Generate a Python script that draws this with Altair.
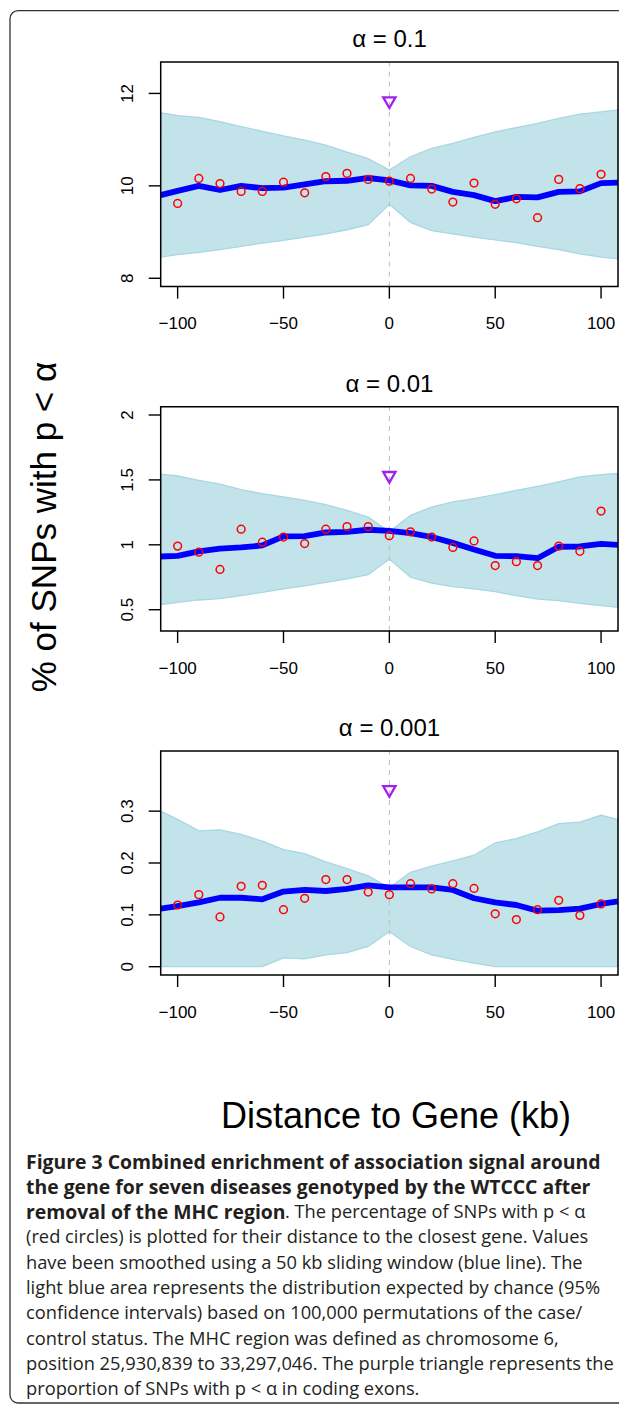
import altair as alt
import pandas as pd

# ---------------- data ----------------
KB = [-100, -90, -80, -70, -60, -50, -40, -30, -20, -10, 0,
      10, 20, 30, 40, 50, 60, 70, 80, 90, 100]
KB_EDGE = [-108] + KB + [108]

TITLES = ["α = 0.1", "α = 0.01", "α = 0.001"]

OBS = [
    [9.62, 10.16, 10.05, 9.88, 9.88, 10.08, 9.85, 10.20, 10.27, 10.14, 10.10,
     10.16, 9.93, 9.65, 10.06, 9.60, 9.72, 9.31, 10.14, 9.94, 10.25],
    [0.99, 0.943, 0.81, 1.12, 1.02, 1.06, 1.01, 1.12, 1.14, 1.14, 1.07,
     1.10, 1.06, 0.98, 1.03, 0.84, 0.87, 0.84, 0.99, 0.95, 1.26],
    [0.119, 0.139, 0.096, 0.155, 0.157, 0.110, 0.132, 0.168, 0.168, 0.144, 0.139,
     0.160, 0.150, 0.160, 0.151, 0.102, 0.091, 0.110, 0.128, 0.099, 0.121],
]
SMOOTH = [
    [9.80, 9.89, 10.00, 9.91, 10.00, 9.95, 9.96, 10.03, 10.10, 10.11, 10.17, 10.12,
     10.01, 10.00, 9.87, 9.80, 9.67, 9.76, 9.75, 9.87, 9.88, 10.06, 10.07],
    [0.91, 0.915, 0.95, 0.97, 0.98, 0.995, 1.065, 1.067, 1.095, 1.10, 1.116, 1.108,
     1.09, 1.06, 1.015, 0.964, 0.915, 0.912, 0.897, 0.985, 0.987, 1.008, 1.0],
    [0.112, 0.117, 0.124, 0.133, 0.133, 0.130, 0.145, 0.148, 0.146, 0.150, 0.157, 0.153,
     0.153, 0.153, 0.148, 0.132, 0.124, 0.119, 0.108, 0.109, 0.112, 0.121, 0.126],
]
HI = [
    [11.58, 11.52, 11.48, 11.39, 11.28, 11.18, 11.08, 10.99, 10.88, 10.73, 10.59, 10.34,
     10.63, 10.81, 10.92, 11.05, 11.17, 11.26, 11.35, 11.46, 11.55, 11.60, 11.64],
    [1.544, 1.53, 1.497, 1.467, 1.425, 1.394, 1.369, 1.343, 1.309, 1.265, 1.214, 1.10,
     1.227, 1.291, 1.33, 1.356, 1.387, 1.42, 1.45, 1.485, 1.523, 1.541, 1.549],
    [0.300, 0.284, 0.262, 0.264, 0.255, 0.242, 0.226, 0.218, 0.202, 0.189, 0.175, 0.152,
     0.182, 0.194, 0.204, 0.215, 0.239, 0.247, 0.260, 0.276, 0.279, 0.292, 0.284],
]
LO = [
    [8.46, 8.51, 8.56, 8.62, 8.69, 8.76, 8.82, 8.89, 8.96, 9.05, 9.16, 9.60,
     9.21, 9.03, 8.96, 8.89, 8.83, 8.77, 8.69, 8.62, 8.53, 8.46, 8.42],
    [0.539, 0.557, 0.575, 0.585, 0.608, 0.634, 0.66, 0.683, 0.711, 0.737, 0.77, 0.89,
     0.75, 0.704, 0.678, 0.66, 0.639, 0.608, 0.582, 0.57, 0.549, 0.531, 0.518],
    [0.0, 0.0, 0.0, 0.0, 0.0, 0.0, 0.017, 0.015, 0.023, 0.027, 0.039, 0.068,
     0.039, 0.023, 0.014, 0.007, 0.0, 0.0, 0.0, 0.0, 0.0, 0.0, 0.0],
]
EXON = [11.8, 1.52, 0.338]

X_TICKS = [-100, -50, 0, 50, 100]
X_TICK_LABELS = ["\u2212100", "\u221250", "0", "50", "100"]
Y_TICKS = [[8, 10, 12], [0.5, 1, 1.5, 2], [0, 0.1, 0.2, 0.3]]
Y_TICK_LABELS = [["8", "10", "12"], ["0.5", "1", "1.5", "2"], ["0", "0.1", "0.2", "0.3"]]
X_DOMAIN = [-108, 108]
Y_DOMAINS = [[7.82, 12.68], [0.336, 2.064], [-0.016, 0.416]]

Y_LABEL = "% of SNPs with p < α"
X_LABEL = "Distance to Gene (kb)"
CAPTION_BOLD = ["Figure 3 Combined enrichment of association signal around",
                "the gene for seven diseases genotyped by the WTCCC after",
                "removal of the MHC region"]
CAPTION_L3_REST = ". The percentage of SNPs with p < α"
CAPTION_REST = [
    "(red circles) is plotted for their distance to the closest gene. Values",
    "have been smoothed using a 50 kb sliding window (blue line). The",
    "light blue area represents the distribution expected by chance (95%",
    "confidence intervals) based on 100,000 permutations of the case/",
    "control status. The MHC region was defined as chromosome 6,",
    "position 25,930,839 to 33,297,046. The purple triangle represents the",
    "proportion of SNPs with p < α in coding exons.",
]

# ---------------- layout (chart pixel coords) ----------------
W, H = 611, 1396
X_RANGE = [152.7, 610.0]
PANEL_TOP = [54.0, 398.7, 743.0]
PANEL_BOTTOM = [278.6, 623.0, 967.0]
TITLE_Y = [32.4, 377.4, 721.4]

BAND_FILL = "#c3e3ea"
BAND_EDGE = "#a9d6e2"
AX_FONT = "Liberation Sans"


def panel(i):
    xs = alt.Scale(domain=X_DOMAIN, range=X_RANGE, nice=False, zero=False)
    ys = alt.Scale(domain=Y_DOMAINS[i], range=[PANEL_BOTTOM[i], PANEL_TOP[i]],
                   nice=False, zero=False)
    band_df = pd.DataFrame({"kb": KB_EDGE, "lo": LO[i], "hi": HI[i], "sm": SMOOTH[i]})
    obs_df = pd.DataFrame({"kb": KB, "v": OBS[i]})
    ex_df = pd.DataFrame({"kb": [0], "v": [EXON[i]]})
    box_df = pd.DataFrame({"x0": [X_DOMAIN[0]], "x1": [X_DOMAIN[1]], "zero": [0],
                           "y0": [Y_DOMAINS[i][0]], "y1": [Y_DOMAINS[i][1]]})
    xt_df = pd.DataFrame({"kb": X_TICKS, "lab": X_TICK_LABELS,
                          "y0": [Y_DOMAINS[i][0]] * len(X_TICKS)})
    yt_df = pd.DataFrame({"v": Y_TICKS[i], "lab": Y_TICK_LABELS[i],
                          "x0": [X_DOMAIN[0]] * len(Y_TICKS[i])})

    X = lambda f: alt.X(f, scale=xs, axis=None)
    Y = lambda f: alt.Y(f, scale=ys, axis=None)

    band = alt.Chart(band_df).mark_area(
        fill=BAND_FILL, stroke=BAND_EDGE, strokeWidth=1.3
    ).encode(x=X("kb:Q"), y=Y("lo:Q"), y2="hi:Q")
    rule = alt.Chart(box_df).mark_rule(
        color="#bdbdbd", strokeWidth=1, strokeDash=[5, 5]
    ).encode(x=X("zero:Q"), y=Y("y0:Q"), y2="y1:Q")
    line = alt.Chart(band_df).mark_line(
        color="#0000ff", strokeWidth=5.8, strokeJoin="round"
    ).encode(x=X("kb:Q"), y=Y("sm:Q"))
    pts = alt.Chart(obs_df).mark_point(
        shape="circle", filled=False, color="#ff0000", size=60, strokeWidth=1.5, opacity=1
    ).encode(x=X("kb:Q"), y=Y("v:Q"))
    tri = alt.Chart(ex_df).mark_point(
        shape="triangle-down", filled=False, color="#a020f0", size=150, strokeWidth=2.3, opacity=1
    ).encode(x=X("kb:Q"), y=Y("v:Q"))
    box = alt.Chart(box_df).mark_rect(
        fillOpacity=0, stroke="black", strokeWidth=1.5
    ).encode(x=X("x0:Q"), x2="x1:Q", y=Y("y0:Q"), y2="y1:Q")

    # axes drawn through the panel scales
    xticks = alt.Chart(xt_df).mark_rule(color="black", strokeWidth=1.4, y2Offset=12).encode(
        x=X("kb:Q"), y=Y("y0:Q"), y2="y0:Q")
    xlabs = alt.Chart(xt_df).mark_text(
        font=AX_FONT, fontSize=17, color="black", align="center", baseline="middle", yOffset=37.5
    ).encode(x=X("kb:Q"), y=Y("y0:Q"), text="lab:N")
    yticks = alt.Chart(yt_df).mark_rule(color="black", strokeWidth=1.4, x2Offset=-12).encode(
        x=X("x0:Q"), x2="x0:Q", y=Y("v:Q"))
    ylabs = alt.Chart(yt_df).mark_text(
        font=AX_FONT, fontSize=17, color="black", align="center", baseline="alphabetic",
        angle=270, xOffset=-27.4
    ).encode(x=X("x0:Q"), y=Y("v:Q"), text="lab:N")

    return alt.layer(band, rule, line, pts, tri, box, xticks, xlabs, yticks, ylabs)


def text_layer(txt, x, y, **kw):
    return alt.Chart(pd.DataFrame({"t": [txt]})).mark_text(**kw).encode(
        text="t:N", x=alt.value(x), y=alt.value(y)
    )


layers = [panel(i) for i in range(3)]

for i in range(3):
    layers.append(text_layer(TITLES[i], 381.5, TITLE_Y[i], font=AX_FONT, fontSize=24,
                             align="center", baseline="middle", color="black"))

layers.append(text_layer(Y_LABEL, 37, 519, font=AX_FONT, fontSize=35, angle=270,
                         align="center", baseline="middle", color="black"))
layers.append(text_layer(X_LABEL, 388, 1108.5, font=AX_FONT, fontSize=36,
                         align="center", baseline="middle", color="black"))

CAP_X = 18
CAP_Y0 = 1154.5
CAP_DY = 25.3
CAP_FONT = "Open Sans"
CAP_SIZE = 18.3
CAP_BOLD_SIZE = 19.4
CAP_COLOR = "#231f20"
for k, t in enumerate(CAPTION_BOLD):
    layers.append(text_layer(t, CAP_X, CAP_Y0 + CAP_DY * k, font=CAP_FONT, fontSize=CAP_BOLD_SIZE,
                             fontWeight="bold", align="left", baseline="middle", color=CAP_COLOR))
layers.append(text_layer(CAPTION_L3_REST, CAP_X + 259, CAP_Y0 + CAP_DY * 2, font=CAP_FONT,
                         fontSize=CAP_SIZE, align="left", baseline="middle", color=CAP_COLOR))
for k, t in enumerate(CAPTION_REST):
    layers.append(text_layer(t, CAP_X, CAP_Y0 + CAP_DY * (k + 3), font=CAP_FONT, fontSize=CAP_SIZE,
                             align="left", baseline="middle", color=CAP_COLOR))

frame = alt.Chart(pd.DataFrame({"f": [0]})).mark_rect(
    fillOpacity=0, stroke="#333333", strokeWidth=1.3, cornerRadius=8
).encode(x=alt.value(2), x2=alt.value(660), y=alt.value(2.7), y2=alt.value(1395))
layers.append(frame)

chart = alt.layer(*layers).resolve_scale(x="independent", y="independent").properties(
    width=W, height=H, autosize=alt.AutoSizeParams(type="none"), padding=0
).configure_view(stroke=None)

chart.save("out.html", embed_options={"renderer": "svg", "actions": False})
